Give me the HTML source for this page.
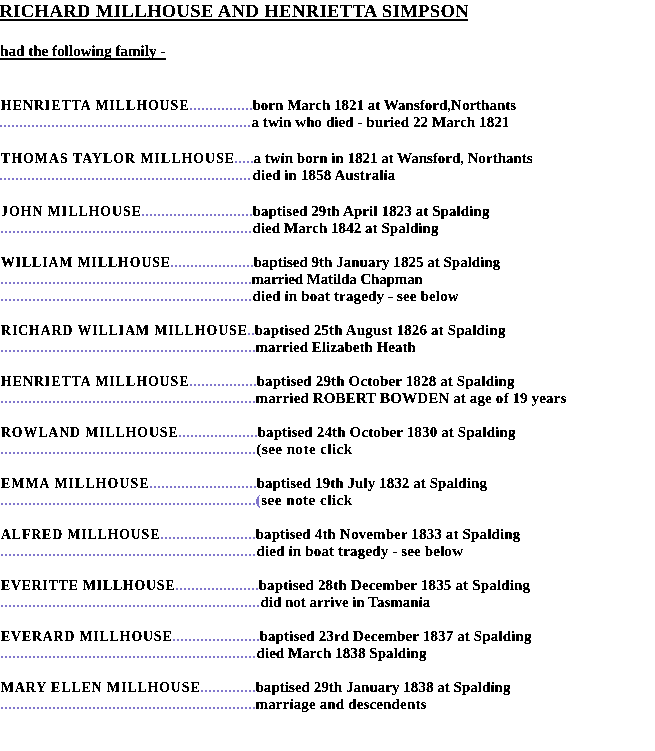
<!DOCTYPE html>
<html><head><meta charset="utf-8"><title>Millhouse family</title>
<style>
html,body{margin:0;padding:0;background:#fff;}
body{width:655px;height:751px;overflow:hidden;position:relative;font-family:"Liberation Serif",serif;font-weight:bold;color:#000;}
.t{position:absolute;white-space:pre;line-height:17px;font-size:15px;}
.n{position:absolute;white-space:pre;line-height:17px;font-size:15px;transform-origin:0 0;}
.h{position:absolute;white-space:pre;line-height:21px;font-size:19px;}
.u{position:absolute;height:2px;background:#000;}
.d{position:absolute;height:2px;background:repeating-linear-gradient(to right,#8076cc 0,#8076cc 2px,transparent 2px,transparent 4px);}
</style></head><body>
<svg width="0" height="0" style="position:absolute"><filter id="crisp" x="0" y="0" width="1" height="1"><feComponentTransfer><feFuncA type="discrete" tableValues="0 0 1 1 1"/></feComponentTransfer></filter></svg>
<div id="w" style="position:absolute;left:0;top:0;width:655px;height:751px;filter:url(#crisp)">

<div class="h" style="left:-0.6px;top:2px;font-size:18.5px;text-rendering:geometricPrecision;letter-spacing:0.43px">RICHARD MILLHOUSE AND HENRIETTA SIMPSON</div>
<div class="u" style="left:0;top:19px;width:468px"></div>
<div class="t" style="left:0px;top:43.0px;font-size:15.3px;text-rendering:geometricPrecision;letter-spacing:-0.085px">had the following family -</div>
<div class="u" style="left:0;top:58px;width:166px"></div>
<div class="n" style="left:0.5px;top:97.0px;letter-spacing:1.077px;transform:scaleX(0.92)">HENRIETTA MILLHOUSE</div>
<div class="d" style="left:190px;top:108px;width:62px"></div>
<div class="t" style="left:252.5px;top:97.0px;letter-spacing:0.012px">born March 1821 at Wansford,Northants</div>
<div class="d" style="left:0px;top:125px;width:250px"></div>
<div class="t" style="left:251.5px;top:114.0px;letter-spacing:0.059px">a twin who died - buried 22 March 1821</div>
<div class="n" style="left:0.5px;top:150.0px;letter-spacing:1.147px;transform:scaleX(0.92)">THOMAS TAYLOR MILLHOUSE</div>
<div class="d" style="left:235px;top:161px;width:18px"></div>
<div class="t" style="left:253.5px;top:150.0px;letter-spacing:-0.015px">a twin born in 1821 at Wansford, Northants</div>
<div class="d" style="left:0px;top:178px;width:250px"></div>
<div class="t" style="left:252.5px;top:167.0px;letter-spacing:0.114px">died in 1858 Australia</div>
<div class="n" style="left:0.5px;top:203.0px;letter-spacing:1.092px;transform:scaleX(0.92)">JOHN MILLHOUSE</div>
<div class="d" style="left:142px;top:214px;width:110px"></div>
<div class="t" style="left:252.5px;top:203.0px;letter-spacing:0.091px">baptised 29th April 1823 at Spalding</div>
<div class="d" style="left:1px;top:231px;width:250px"></div>
<div class="t" style="left:252.5px;top:220.0px;letter-spacing:0.046px">died March 1842 at Spalding</div>
<div class="n" style="left:0.5px;top:254.0px;letter-spacing:0.988px;transform:scaleX(0.92)">WILLIAM MILLHOUSE</div>
<div class="d" style="left:171px;top:265px;width:82px"></div>
<div class="t" style="left:253.5px;top:254.0px;letter-spacing:0.012px">baptised 9th January 1825 at Spalding</div>
<div class="d" style="left:1px;top:282px;width:250px"></div>
<div class="t" style="left:251.5px;top:271.0px;letter-spacing:-0.127px">married Matilda Chapman</div>
<div class="d" style="left:1px;top:299px;width:250px"></div>
<div class="t" style="left:252.5px;top:288.0px;letter-spacing:0.142px">died in boat tragedy - see below</div>
<div class="n" style="left:0.5px;top:322.0px;letter-spacing:1.008px;transform:scaleX(0.92)">RICHARD WILLIAM MILLHOUSE</div>
<div class="d" style="left:248px;top:333px;width:6px"></div>
<div class="t" style="left:254.5px;top:322.0px;letter-spacing:0.15px">baptised 25th August 1826 at Spalding</div>
<div class="d" style="left:1px;top:350px;width:254px"></div>
<div class="t" style="left:255.5px;top:339.0px;letter-spacing:0.018px">married Elizabeth Heath</div>
<div class="n" style="left:0.5px;top:373.0px;letter-spacing:1.077px;transform:scaleX(0.92)">HENRIETTA MILLHOUSE</div>
<div class="d" style="left:190px;top:384px;width:66px"></div>
<div class="t" style="left:256.5px;top:373.0px;letter-spacing:0.146px">baptised 29th October 1828 at Spalding</div>
<div class="d" style="left:1px;top:401px;width:254px"></div>
<div class="t" style="left:255.5px;top:390.0px;letter-spacing:0.138px">married ROBERT BOWDEN at age of 19 years</div>
<div class="n" style="left:0.5px;top:424.0px;letter-spacing:0.975px;transform:scaleX(0.92)">ROWLAND MILLHOUSE</div>
<div class="d" style="left:179px;top:435px;width:78px"></div>
<div class="t" style="left:257.5px;top:424.0px;letter-spacing:0.146px">baptised 24th October 1830 at Spalding</div>
<div class="d" style="left:1px;top:452px;width:254px"></div>
<div class="t" style="left:256.5px;top:441.0px;letter-spacing:0.457px">(see note click</div>
<div class="n" style="left:0.5px;top:475.0px;letter-spacing:1.2px;transform:scaleX(0.92)">EMMA MILLHOUSE</div>
<div class="d" style="left:150px;top:486px;width:106px"></div>
<div class="t" style="left:256.5px;top:475.0px;letter-spacing:0.071px">baptised 19th July 1832 at Spalding</div>
<div class="d" style="left:1px;top:503px;width:254px"></div>
<div class="t" style="left:255.7px;top:492.0px;letter-spacing:0.514px"><span style="color:#8076cc">(</span>see note click</div>
<div class="n" style="left:0.5px;top:526.0px;letter-spacing:0.947px;transform:scaleX(0.92)">ALFRED MILLHOUSE</div>
<div class="d" style="left:161px;top:537px;width:94px"></div>
<div class="t" style="left:255.5px;top:526.0px;letter-spacing:0.146px">baptised 4th November 1833 at Spalding</div>
<div class="d" style="left:1px;top:554px;width:254px"></div>
<div class="t" style="left:256.5px;top:543.0px;letter-spacing:0.155px">died in boat tragedy - see below</div>
<div class="n" style="left:0.5px;top:577.0px;letter-spacing:0.871px;transform:scaleX(0.92)">EVERITTE MILLHOUSE</div>
<div class="d" style="left:176px;top:588px;width:82px"></div>
<div class="t" style="left:258.5px;top:577.0px;letter-spacing:0.169px">baptised 28th December 1835 at Spalding</div>
<div class="d" style="left:1px;top:605px;width:258px"></div>
<div class="t" style="left:260.5px;top:594.0px;letter-spacing:-0.016px">did not arrive in Tasmania</div>
<div class="n" style="left:0.5px;top:628.0px;letter-spacing:0.938px;transform:scaleX(0.92)">EVERARD MILLHOUSE</div>
<div class="d" style="left:173px;top:639px;width:86px"></div>
<div class="t" style="left:259.5px;top:628.0px;letter-spacing:0.137px">baptised 23rd December 1837 at Spalding</div>
<div class="d" style="left:1px;top:656px;width:254px"></div>
<div class="t" style="left:256.5px;top:645.0px;letter-spacing:0.06px">died March 1838 Spalding</div>
<div class="n" style="left:0.5px;top:679.0px;letter-spacing:1.022px;transform:scaleX(0.92)">MARY ELLEN MILLHOUSE</div>
<div class="d" style="left:201px;top:690px;width:54px"></div>
<div class="t" style="left:255.5px;top:679.0px;letter-spacing:0.032px">baptised 29th January 1838 at Spalding</div>
<div class="d" style="left:1px;top:707px;width:254px"></div>
<div class="t" style="left:255.5px;top:696.0px;letter-spacing:0.147px">marriage and descendents</div>
</div></body></html>
